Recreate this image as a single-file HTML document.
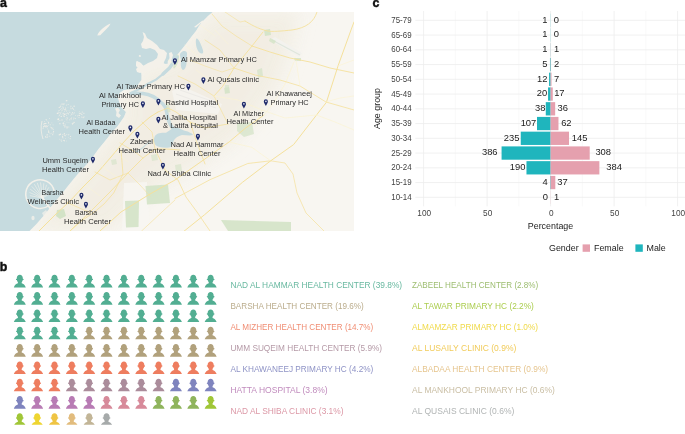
<!DOCTYPE html>
<html lang="en"><head><meta charset="utf-8"><title>Figure</title>
<style>html,body{margin:0;padding:0;background:#fff}svg{display:block}text{font-family:"Liberation Sans",sans-serif}.ml{font-size:7.6px;fill:#2b2b2b}.lg{font-size:9.1px;opacity:0.88}.ct{font-size:9.4px;fill:#222}.ax{font-size:9px;fill:#444}.pl{font-size:12.4px;font-weight:bold;fill:#111;stroke:#111;stroke-width:0.45px}</style></head><body>
<svg width="685" height="434" viewBox="0 0 685 434">
<rect width="685" height="434" fill="#fff"/>
<text class="pl" x="0.1" y="6.5">a</text>
<text class="pl" x="-0.3" y="270.5">b</text>
<text class="pl" x="372.6" y="6.9">c</text>
<defs><clipPath id="mc"><rect x="0" y="12" width="354" height="219"/></clipPath></defs>
<g clip-path="url(#mc)">
<rect x="0" y="12" width="354" height="219" fill="#c6dbdf"/>
<path d="M212.7,12 L208,16 L203,21 L199,26 L196,31 L192,36 L189,40 L186,44 L182,49 L178,54 L174,59 L170,63 L166,64 L162.4,63.2 L159.7,64 L155.6,66.5 L150.8,67.8 L144.4,66.5 L139.5,62.5 L136.3,61.3 L136,65.5 L138.5,68.5 L141,71 L141.5,75 L141.5,80 L138.5,84 L136,88 L130,89.5 L124,90 L119.5,93 L118,98 L119.5,103 L122,108 L126,112 L124,117 L120.5,122 L117,127 L112,132 L107.5,138 L103.5,143 L98.5,149 L93.5,156 L88,163 L80.5,171 L74.5,178 L68,186 L62.5,193 L56.5,200 L50,208 L43.5,216 L36.5,224 L29.5,231 L354,231 L354,12 Z" fill="#f8f6f1"/>
<clipPath id="lc"><path d="M212.7,12 L208,16 L203,21 L199,26 L196,31 L192,36 L189,40 L186,44 L182,49 L178,54 L174,59 L170,63 L166,64 L162.4,63.2 L159.7,64 L155.6,66.5 L150.8,67.8 L144.4,66.5 L139.5,62.5 L136.3,61.3 L136,65.5 L138.5,68.5 L141,71 L141.5,75 L141.5,80 L138.5,84 L136,88 L130,89.5 L124,90 L119.5,93 L118,98 L119.5,103 L122,108 L126,112 L124,117 L120.5,122 L117,127 L112,132 L107.5,138 L103.5,143 L98.5,149 L93.5,156 L88,163 L80.5,171 L74.5,178 L68,186 L62.5,193 L56.5,200 L50,208 L43.5,216 L36.5,224 L29.5,231 L354,231 L354,12 Z"/></clipPath>
<filter id="bl" x="-20%" y="-20%" width="140%" height="140%"><feGaussianBlur stdDeviation="9"/></filter>
<g clip-path="url(#lc)"><path d="M212.7,12 L208,16 L203,21 L199,26 L196,31 L192,36 L189,40 L186,44 L182,49 L178,54 L174,59 L170,63 L166,64 L162.4,63.2 L159.7,64 L155.6,66.5 L150.8,67.8 L144.4,66.5 L139.5,62.5 L136.3,61.3 L136,65.5 L138.5,68.5 L141,71 L141.5,75 L141.5,80 L138.5,84 L136,88 L130,89.5 L124,90 L119.5,93 L118,98 L119.5,103 L122,108 L126,112 L124,117 L120.5,122 L117,127 L112,132 L107.5,138 L103.5,143 L98.5,149 L93.5,156 L88,163 L80.5,171 L74.5,178 L68,186 L62.5,193 L56.5,200 L50,208 L43.5,216 L36.5,224 L29.5,231 L110,231 L135,205 L160,185 L200,165 L235,140 L262,110 L280,80 L290,50 L300,12 Z" fill="#f1ede2" opacity="0.9" filter="url(#bl)"/></g>
<path d="M194,27 L202.5,20.5 L204.5,22.5 L203.5,27 L201,30 L199.5,27.5 L202,24 L201,23 L196,27.5 Z" fill="#f4f1ea"/>
<path d="M142.6,32 L145,33.5 L147,38 L152,41 L157,45 L160,49 L164,50 L167,53 L166,58 L164,62 L163.5,66 L160,68 L156,67 L152,69 L146,71 L140,73 L137,72 L136,69 L139,66 L143,66 L148,63 L153,61 L157,58 L158,54 L155,50 L150,48 L146,49 L142,48 L141,44 L143,41 L144,37 Z" fill="#f4f1ea"/>
<path d="M137,61 L141,63 L143,66 L139,68 L136,66 Z" fill="#f4f1ea"/>
<path d="M169,53 L171.5,52 L173,55 L171,62 L168.5,65 L167.5,62 L169.5,58 Z" fill="#f4f1ea"/>
<path d="M139,55 L141,55.5 L140.5,57 L138.8,56.5 Z" fill="#f4f1ea"/>
<path d="M196.5,38.5 C198,38 200,42 201.5,46 C203,50 204,52.5 202.5,53.5 C200,54 197.5,51 196.5,47 C195.8,43.5 195.5,39.5 196.5,38.5 Z" fill="#c6dbdf"/>
<path d="M180.5,53 C183,50 186.5,50.5 187,53 C187.5,56 186,58 186.5,61 C187,65 185,70 183,70 C181,69 180.5,65 181,62 C181.5,58 179,56 180.5,53 Z" fill="#c6dbdf"/>
<path d="M176,55 C178,53.5 179.5,55 179,58 C178.5,62 177,66 174.5,68.5 C173,69 173,67 174,64.5 C175,61 174.5,57 176,55 Z" fill="#d9e6cd"/>
<path d="M120,75 L139,75 L141,80 L138,86 L133,92 L127,97 L120,100 Z" fill="#c6dbdf" opacity="0"/>
<path d="M177,57 L173,63 L169.5,68 L163,74" fill="none" stroke="#c6dbdf" stroke-width="3.4" stroke-linecap="round" stroke-linejoin="round"/>
<path d="M169.5,68 L163,74 L156,79.6 L148,83.8 L140,88.8 L132,92.6" fill="none" stroke="#c6dbdf" stroke-width="2.2" stroke-linecap="round" stroke-linejoin="round"/>
<path d="M131,93.5 C136,93.2 143,93.2 148,94.5 C152,95.5 156,98 158.5,100 C161.8,102.6 164,105 165.2,107.2 C166.5,110 167,113.5 167.5,117 C168.5,121 170,125 173,128.5" fill="none" stroke="#c6dbdf" stroke-width="3.4" stroke-linecap="round"/>
<path d="M154.5,137 C156,133 161,132.5 166,132.8 C169,131 172,128.5 175,127.5 C178,127.5 181,129 184,130.5 C188,131.5 192,133 193,135 C190,136 186,135 182,135 C178,136 175,138 173.5,141 C173,144 172,147 169,147.5 C164,148 158,147.5 155.5,145 C153.5,142.5 153.5,139.5 154.5,137 Z" fill="#c6dbdf"/>
<path d="M152,141 C148,143 144,146 141,149 C139,151 137,152 135,152" fill="none" stroke="#c6dbdf" stroke-width="1.2" opacity="0.8"/>
<path d="M172,91 L182,86 L222,104 L218,114 L176,110 Z" fill="#f5f4f2" opacity="0.75"/>
<path d="M176,94 L216,108 M180,90 L220,104" stroke="#eceae6" stroke-width="1" fill="none"/>
<path d="M270,40 L275,37 L302,53 L299,57 Z" fill="#f3f2ee"/>
<path d="M272,40 L300,55" stroke="#dfe6dc" stroke-width="1.2" fill="none"/>
<path d="M124,183 L147,182 L150,231 L122,231 Z" fill="#f7f6f2" opacity="0.8"/>
<path d="M57,210 L64,209 L66,216 L60,219 L56,216 Z" fill="#d3e3c6" opacity="1"/>
<path d="M145.5,186 L168,184.5 L170,203 L147,204.5 Z" fill="#d3e3c6" opacity="0.9"/>
<path d="M125,201 L139,200.5 L138.5,227 L126,227.5 Z" fill="#d3e3c6" opacity="0.9"/>
<path d="M221,220 L291,222 L291,231 L228,231 Z" fill="#d3e3c6" opacity="0.9"/>
<path d="M237,123 L252,122 L254,134 L244,137 L237,131 Z" fill="#d3e3c6" opacity="0.7"/>
<path d="M225,85 L229,85 L229.5,93 L225,93 Z" fill="#d3e3c6" opacity="0.6"/>
<path d="M264,30 L270,29 L271,35 L265,36 Z" fill="#d3e3c6" opacity="0.9"/>
<path d="M257,70 L262,68 L263,76 L258,78 Z" fill="#d3e3c6" opacity="0.7"/>
<path d="M224,88 L229,87 L230,93 L225,94 Z" fill="#d3e3c6" opacity="0.7"/>
<path d="M270,38 L276,41 L274,44 L269,41 Z" fill="#d3e3c6" opacity="0.8"/>
<path d="M294,58 L301,58 L301,61 L295,61 Z" fill="#d3e3c6" opacity="0.8"/>
<path d="M175,165 L181,164 L182,171 L176,172 Z" fill="#d3e3c6" opacity="0.6"/>
<path d="M151,155 L157,154 L158,160 L152,161 Z" fill="#d3e3c6" opacity="0.6"/>
<path d="M111,160 L116,159 L117,164 L112,165 Z" fill="#d3e3c6" opacity="0.6"/>
<path d="M165.5,102.5 L169,104 L170.5,112 L167.5,112.5 Z" fill="#d3e3c6" opacity="0.7"/>
<path d="M39,231 L55,215 L69,202 L83,187 L98,172 L111,157 L123,143 L133,132 L143,123 L150,117 L158,112" fill="none" stroke="#f5e19c" stroke-width="1.0" opacity="1" stroke-linecap="round" stroke-linejoin="round"/>
<path d="M70,231 L90,212 L110,192 L128,173 L143,158 L155,149 L166,149 L180,150" fill="none" stroke="#f5e19c" stroke-width="0.9" opacity="1" stroke-linecap="round" stroke-linejoin="round"/>
<path d="M100,231 L121,212 L150,194 L175,180 L202,161 L229,142 L245,128.5 L264,115" fill="none" stroke="#f5e19c" stroke-width="1.0" opacity="1" stroke-linecap="round" stroke-linejoin="round"/>
<path d="M264,115 L274,102 L285,84 L294,62" fill="none" stroke="#fbf3d2" stroke-width="0.7" opacity="1" stroke-linecap="round" stroke-linejoin="round"/>
<path d="M183,232 L204.6,214.7 L242.4,182.4 L270.7,160.8 L293.6,144.6 L316.5,115 L326.4,102.3 L338,66 L351,30 L354,22" fill="none" stroke="#f5e19c" stroke-width="1.0" opacity="1" stroke-linecap="round" stroke-linejoin="round"/>
<path d="M95,172 L110,180 L128,173" fill="none" stroke="#f5e19c" stroke-width="0.7" opacity="1" stroke-linecap="round" stroke-linejoin="round"/>
<path d="M120,143 L135,152 L143,158" fill="none" stroke="#f5e19c" stroke-width="0.7" opacity="1" stroke-linecap="round" stroke-linejoin="round"/>
<path d="M66,202 L84,210 L90,212" fill="none" stroke="#f5e19c" stroke-width="0.7" opacity="1" stroke-linecap="round" stroke-linejoin="round"/>
<path d="M142,122 L152,132 L155,149" fill="none" stroke="#f5e19c" stroke-width="0.7" opacity="1" stroke-linecap="round" stroke-linejoin="round"/>
<path d="M158,112 L168,108 L176,112 L190,122 L205,128 L228,124" fill="none" stroke="#f5e19c" stroke-width="0.8" opacity="1" stroke-linecap="round" stroke-linejoin="round"/>
<path d="M190,122 L196,140 L205,164" fill="none" stroke="#f5e19c" stroke-width="0.8" opacity="1" stroke-linecap="round" stroke-linejoin="round"/>
<path d="M155,149 L165,170 L178,180 L186,197 L197,212 L210,231" fill="none" stroke="#f5e19c" stroke-width="0.8" opacity="1" stroke-linecap="round" stroke-linejoin="round"/>
<path d="M128,173 L140,185 L150,196" fill="none" stroke="#f5e19c" stroke-width="0.6" opacity="1" stroke-linecap="round" stroke-linejoin="round"/>
<path d="M175,200 L156.6,217 L141.6,231" fill="none" stroke="#f5e19c" stroke-width="0.7" opacity="0.9" stroke-linecap="round" stroke-linejoin="round"/>
<path d="M121,150 L123,174 L113.7,193 L104,204 L95,211.5 L80,222 L70,231" fill="none" stroke="#f5e19c" stroke-width="0.8" opacity="1" stroke-linecap="round" stroke-linejoin="round"/>
<path d="M317,12 C314,22 306,28 292,30 C282,31 272,32 267.7,31 C258,29 250,24 245,21" fill="none" stroke="#f5e19c" stroke-width="0.9" opacity="1" stroke-linecap="round" stroke-linejoin="round"/>
<path d="M263,32 L252,46 L243,57 L234,68 L228,78 L222.5,86.5 L214,96" fill="none" stroke="#f5e19c" stroke-width="0.9" opacity="1" stroke-linecap="round" stroke-linejoin="round"/>
<path d="M252,46 L270,52 L290,58 L310,62 L330,68 L354,73" fill="none" stroke="#f5e19c" stroke-width="0.9" opacity="1" stroke-linecap="round" stroke-linejoin="round"/>
<path d="M234,68 L255,75 L280,80 L300,86 L326,102 L354,110" fill="none" stroke="#f5e19c" stroke-width="0.8" opacity="1" stroke-linecap="round" stroke-linejoin="round"/>
<path d="M205,40 L220,50 L234,68" fill="none" stroke="#f5e19c" stroke-width="0.7" opacity="1" stroke-linecap="round" stroke-linejoin="round"/>
<path d="M190,60 L205,66 L222,72 L234,68" fill="none" stroke="#f5e19c" stroke-width="0.6" opacity="1" stroke-linecap="round" stroke-linejoin="round"/>
<path d="M178,76 L195,84 L214,96 L228,124" fill="none" stroke="#f5e19c" stroke-width="0.7" opacity="1" stroke-linecap="round" stroke-linejoin="round"/>
<path d="M214,96 L238,100 L262,110 L285,118 L316.5,115" fill="none" stroke="#fbf3d2" stroke-width="0.7" opacity="1" stroke-linecap="round" stroke-linejoin="round"/>
<path d="M316.5,115 L335,122 L354,130" fill="none" stroke="#fbf3d2" stroke-width="0.7" opacity="1" stroke-linecap="round" stroke-linejoin="round"/>
<path d="M212,14 L222,26 L236,36 L252,46" fill="none" stroke="#f5e19c" stroke-width="0.7" opacity="1" stroke-linecap="round" stroke-linejoin="round"/>
<path d="M225,12 L240,22 L245,21" fill="none" stroke="#f5e19c" stroke-width="0.6" opacity="1" stroke-linecap="round" stroke-linejoin="round"/>
<path d="M175,198.5 L210,179.7 L247.8,163.5 L270.7,160.8" fill="none" stroke="#f5e19c" stroke-width="0.8" opacity="1" stroke-linecap="round" stroke-linejoin="round"/>
<path d="M229,142 L251.8,147.3 L270.7,160.8" fill="none" stroke="#fbf3d2" stroke-width="0.7" opacity="1" stroke-linecap="round" stroke-linejoin="round"/>
<path d="M270.7,160.8 L285,163 L293,174 L297,193 L306,213 L324,231" fill="none" stroke="#f5e19c" stroke-width="0.8" opacity="0.9" stroke-linecap="round" stroke-linejoin="round"/>
<path d="M255,126 L262,110" fill="none" stroke="#fbf3d2" stroke-width="0.7" opacity="1" stroke-linecap="round" stroke-linejoin="round"/>
<path d="M300,86 L296,60" fill="none" stroke="#fbf3d2" stroke-width="0.6" opacity="1" stroke-linecap="round" stroke-linejoin="round"/>
<path d="M338,66 L354,60" fill="none" stroke="#fbf3d2" stroke-width="0.6" opacity="1" stroke-linecap="round" stroke-linejoin="round"/>
<path d="M326,102 L340,98 L354,96" fill="none" stroke="#fbf3d2" stroke-width="0.6" opacity="1" stroke-linecap="round" stroke-linejoin="round"/>
<path d="M100,165 L118,178" fill="none" stroke="#fbf3d2" stroke-width="0.5" opacity="0.9" stroke-linecap="round" stroke-linejoin="round"/>
<path d="M85,185 L100,196" fill="none" stroke="#fbf3d2" stroke-width="0.5" opacity="0.9" stroke-linecap="round" stroke-linejoin="round"/>
<path d="M112,150 L128,162" fill="none" stroke="#fbf3d2" stroke-width="0.5" opacity="0.9" stroke-linecap="round" stroke-linejoin="round"/>
<path d="M70,205 L82,213" fill="none" stroke="#fbf3d2" stroke-width="0.5" opacity="0.9" stroke-linecap="round" stroke-linejoin="round"/>
<path d="M168,60 L182,70" fill="none" stroke="#fbf3d2" stroke-width="0.5" opacity="0.9" stroke-linecap="round" stroke-linejoin="round"/>
<path d="M185,45 L200,58" fill="none" stroke="#fbf3d2" stroke-width="0.5" opacity="0.9" stroke-linecap="round" stroke-linejoin="round"/>
<path d="M200,25 L215,36" fill="none" stroke="#fbf3d2" stroke-width="0.5" opacity="0.9" stroke-linecap="round" stroke-linejoin="round"/>
<path d="M215,30 L228,44" fill="none" stroke="#fbf3d2" stroke-width="0.5" opacity="0.9" stroke-linecap="round" stroke-linejoin="round"/>
<path d="M196,70 L210,80" fill="none" stroke="#fbf3d2" stroke-width="0.5" opacity="0.9" stroke-linecap="round" stroke-linejoin="round"/>
<path d="M115,108.5 L118,107.5 L120,110 L118.5,113 L121,115.5 L119,118 L116,116 L116.5,112 Z" fill="#f4f1ea" opacity="0.9"/>
<path d="M49,205.5 A14.4,14.4 0 1 1 54.2,191" fill="none" stroke="#f4f1ea" stroke-width="1.5" opacity="0.95"/>
<path d="M52,211 L41,195.5" stroke="#f4f1ea" stroke-width="1.7" fill="none"/>
<path d="M42.5,198.0 L29.9,195.7" stroke="#f4f1ea" stroke-width="0.7" opacity="0.85" fill="none"/>
<path d="M42.5,198.0 L29.5,192.5" stroke="#f4f1ea" stroke-width="0.7" opacity="0.85" fill="none"/>
<path d="M42.5,198.0 L30.2,189.2" stroke="#f4f1ea" stroke-width="0.7" opacity="0.85" fill="none"/>
<path d="M42.5,198.0 L31.8,186.4" stroke="#f4f1ea" stroke-width="0.7" opacity="0.85" fill="none"/>
<path d="M42.5,198.0 L34.3,184.2" stroke="#f4f1ea" stroke-width="0.7" opacity="0.85" fill="none"/>
<path d="M42.5,198.0 L37.3,182.9" stroke="#f4f1ea" stroke-width="0.7" opacity="0.85" fill="none"/>
<path d="M42.5,198.0 L40.5,182.5" stroke="#f4f1ea" stroke-width="0.7" opacity="0.85" fill="none"/>
<path d="M42.5,198.0 L43.8,183.2" stroke="#f4f1ea" stroke-width="0.7" opacity="0.85" fill="none"/>
<path d="M42.5,198.0 L46.6,184.8" stroke="#f4f1ea" stroke-width="0.7" opacity="0.85" fill="none"/>
<path d="M42.5,198.0 L48.8,187.3" stroke="#f4f1ea" stroke-width="0.7" opacity="0.85" fill="none"/>
<path d="M42.5,198.0 L50.1,190.3" stroke="#f4f1ea" stroke-width="0.7" opacity="0.85" fill="none"/>
<path d="M42.5,198.0 L50.5,193.5" stroke="#f4f1ea" stroke-width="0.7" opacity="0.85" fill="none"/>
<ellipse cx="33" cy="218" rx="1.6" ry="2.2" fill="#f4f1ea" opacity="0.8"/>
<path d="M42,213 L46,210 L48,213 L44,217 Z" fill="#f4f1ea" opacity="0.7"/>
<rect x="62.7" y="104.2" width="1.0" height="1.0" fill="#f1efe8" opacity="0.63"/>
<rect x="66.7" y="110.2" width="0.6" height="0.6" fill="#f1efe8" opacity="0.80"/>
<rect x="57.2" y="112.1" width="0.6" height="0.6" fill="#f1efe8" opacity="0.64"/>
<rect x="64.6" y="123.2" width="0.7" height="0.7" fill="#f1efe8" opacity="0.69"/>
<rect x="68.4" y="126.5" width="0.9" height="0.9" fill="#f1efe8" opacity="0.76"/>
<rect x="72.8" y="108.1" width="0.7" height="0.7" fill="#f1efe8" opacity="0.65"/>
<rect x="62.4" y="122.9" width="0.7" height="0.7" fill="#f1efe8" opacity="0.83"/>
<rect x="68.6" y="110.4" width="0.9" height="0.9" fill="#f1efe8" opacity="0.63"/>
<rect x="69.4" y="112.0" width="0.8" height="0.8" fill="#f1efe8" opacity="0.83"/>
<rect x="65.1" y="108.4" width="1.1" height="1.1" fill="#f1efe8" opacity="0.88"/>
<rect x="61.1" y="116.1" width="0.9" height="0.9" fill="#f1efe8" opacity="0.95"/>
<rect x="70.4" y="108.1" width="1.2" height="1.2" fill="#f1efe8" opacity="0.65"/>
<rect x="64.4" y="121.2" width="0.7" height="0.7" fill="#f1efe8" opacity="0.80"/>
<rect x="57.2" y="118.7" width="1.1" height="1.1" fill="#f1efe8" opacity="0.83"/>
<rect x="73.1" y="108.8" width="1.0" height="1.0" fill="#f1efe8" opacity="0.84"/>
<rect x="67.5" y="112.8" width="1.1" height="1.1" fill="#f1efe8" opacity="0.98"/>
<rect x="65.5" y="118.6" width="0.6" height="0.6" fill="#f1efe8" opacity="0.88"/>
<rect x="72.1" y="108.0" width="0.8" height="0.8" fill="#f1efe8" opacity="0.87"/>
<rect x="56.9" y="112.9" width="0.7" height="0.7" fill="#f1efe8" opacity="0.65"/>
<rect x="59.0" y="106.9" width="0.8" height="0.8" fill="#f1efe8" opacity="0.95"/>
<rect x="58.0" y="112.6" width="0.9" height="0.9" fill="#f1efe8" opacity="0.95"/>
<rect x="72.1" y="124.2" width="0.8" height="0.8" fill="#f1efe8" opacity="0.77"/>
<rect x="63.3" y="124.8" width="1.2" height="1.2" fill="#f1efe8" opacity="0.66"/>
<rect x="59.8" y="106.5" width="0.7" height="0.7" fill="#f1efe8" opacity="0.79"/>
<rect x="67.7" y="107.4" width="0.6" height="0.6" fill="#f1efe8" opacity="0.77"/>
<rect x="63.5" y="115.9" width="1.2" height="1.2" fill="#f1efe8" opacity="0.88"/>
<rect x="66.3" y="117.3" width="1.0" height="1.0" fill="#f1efe8" opacity="0.62"/>
<rect x="73.6" y="121.8" width="1.1" height="1.1" fill="#f1efe8" opacity="0.92"/>
<rect x="64.0" y="111.2" width="0.7" height="0.7" fill="#f1efe8" opacity="0.85"/>
<rect x="60.5" y="104.5" width="0.8" height="0.8" fill="#f1efe8" opacity="0.62"/>
<rect x="58.4" y="110.2" width="0.6" height="0.6" fill="#f1efe8" opacity="0.95"/>
<rect x="68.2" y="104.2" width="0.8" height="0.8" fill="#f1efe8" opacity="0.74"/>
<rect x="63.4" y="103.4" width="1.1" height="1.1" fill="#f1efe8" opacity="1.00"/>
<rect x="65.4" y="113.5" width="0.7" height="0.7" fill="#f1efe8" opacity="0.64"/>
<rect x="63.0" y="107.4" width="1.1" height="1.1" fill="#f1efe8" opacity="0.66"/>
<rect x="66.5" y="104.1" width="0.9" height="0.9" fill="#f1efe8" opacity="0.61"/>
<rect x="66.5" y="127.4" width="1.1" height="1.1" fill="#f1efe8" opacity="0.88"/>
<rect x="61.5" y="110.3" width="0.7" height="0.7" fill="#f1efe8" opacity="0.91"/>
<rect x="66.6" y="121.8" width="0.8" height="0.8" fill="#f1efe8" opacity="0.69"/>
<rect x="72.7" y="122.6" width="1.1" height="1.1" fill="#f1efe8" opacity="0.90"/>
<rect x="60.8" y="114.5" width="0.8" height="0.8" fill="#f1efe8" opacity="0.61"/>
<rect x="61.4" y="119.4" width="1.2" height="1.2" fill="#f1efe8" opacity="0.78"/>
<rect x="74.6" y="110.2" width="0.7" height="0.7" fill="#f1efe8" opacity="0.69"/>
<rect x="60.2" y="105.7" width="1.0" height="1.0" fill="#f1efe8" opacity="0.96"/>
<rect x="72.5" y="113.4" width="1.0" height="1.0" fill="#f1efe8" opacity="0.92"/>
<rect x="58.1" y="118.5" width="1.1" height="1.1" fill="#f1efe8" opacity="0.91"/>
<rect x="70.8" y="113.4" width="0.7" height="0.7" fill="#f1efe8" opacity="0.92"/>
<rect x="62.8" y="122.4" width="1.2" height="1.2" fill="#f1efe8" opacity="0.76"/>
<rect x="64.1" y="126.5" width="1.0" height="1.0" fill="#f1efe8" opacity="0.67"/>
<rect x="59.3" y="123.1" width="1.2" height="1.2" fill="#f1efe8" opacity="0.86"/>
<rect x="63.2" y="115.4" width="0.7" height="0.7" fill="#f1efe8" opacity="0.61"/>
<rect x="74.9" y="118.2" width="0.9" height="0.9" fill="#f1efe8" opacity="0.97"/>
<rect x="64.7" y="124.4" width="1.1" height="1.1" fill="#f1efe8" opacity="0.68"/>
<rect x="61.3" y="108.2" width="0.7" height="0.7" fill="#f1efe8" opacity="0.83"/>
<rect x="61.4" y="111.7" width="0.7" height="0.7" fill="#f1efe8" opacity="0.96"/>
<rect x="63.2" y="112.8" width="1.0" height="1.0" fill="#f1efe8" opacity="0.96"/>
<rect x="64.5" y="125.7" width="0.9" height="0.9" fill="#f1efe8" opacity="0.81"/>
<rect x="66.4" y="100.5" width="0.9" height="0.9" fill="#f1efe8" opacity="0.67"/>
<rect x="59.8" y="113.3" width="1.0" height="1.0" fill="#f1efe8" opacity="0.82"/>
<rect x="62.7" y="114.5" width="0.9" height="0.9" fill="#f1efe8" opacity="0.91"/>
<rect x="58.5" y="115.7" width="0.7" height="0.7" fill="#f1efe8" opacity="0.71"/>
<rect x="71.2" y="114.2" width="0.9" height="0.9" fill="#f1efe8" opacity="0.90"/>
<rect x="73.8" y="112.4" width="1.0" height="1.0" fill="#f1efe8" opacity="0.80"/>
<rect x="66.2" y="119.4" width="0.9" height="0.9" fill="#f1efe8" opacity="0.81"/>
<rect x="65.6" y="126.4" width="1.0" height="1.0" fill="#f1efe8" opacity="0.95"/>
<rect x="67.1" y="126.4" width="1.1" height="1.1" fill="#f1efe8" opacity="0.65"/>
<rect x="58.8" y="112.4" width="0.6" height="0.6" fill="#f1efe8" opacity="0.70"/>
<rect x="57.9" y="118.7" width="1.1" height="1.1" fill="#f1efe8" opacity="0.96"/>
<rect x="59.4" y="120.1" width="1.0" height="1.0" fill="#f1efe8" opacity="0.66"/>
<rect x="64.1" y="113.6" width="1.2" height="1.2" fill="#f1efe8" opacity="0.93"/>
<rect x="59.6" y="112.1" width="0.9" height="0.9" fill="#f1efe8" opacity="0.74"/>
<rect x="60.2" y="108.9" width="1.0" height="1.0" fill="#f1efe8" opacity="0.61"/>
<rect x="67.0" y="112.3" width="0.6" height="0.6" fill="#f1efe8" opacity="0.73"/>
<rect x="68.4" y="114.3" width="0.6" height="0.6" fill="#f1efe8" opacity="0.99"/>
<rect x="58.5" y="107.4" width="0.6" height="0.6" fill="#f1efe8" opacity="0.91"/>
<rect x="61.6" y="103.6" width="0.9" height="0.9" fill="#f1efe8" opacity="0.96"/>
<rect x="72.1" y="107.2" width="0.7" height="0.7" fill="#f1efe8" opacity="0.97"/>
<rect x="67.3" y="119.6" width="0.7" height="0.7" fill="#f1efe8" opacity="0.62"/>
<rect x="69.6" y="111.9" width="0.6" height="0.6" fill="#f1efe8" opacity="0.98"/>
<rect x="68.6" y="122.4" width="0.7" height="0.7" fill="#f1efe8" opacity="0.94"/>
<rect x="65.1" y="109.5" width="0.9" height="0.9" fill="#f1efe8" opacity="0.97"/>
<rect x="61.6" y="103.6" width="0.9" height="0.9" fill="#f1efe8" opacity="0.70"/>
<rect x="62.4" y="108.5" width="1.1" height="1.1" fill="#f1efe8" opacity="0.72"/>
<rect x="66.0" y="105.0" width="0.8" height="0.8" fill="#f1efe8" opacity="0.61"/>
<rect x="70.4" y="115.4" width="0.7" height="0.7" fill="#f1efe8" opacity="0.79"/>
<rect x="72.1" y="112.1" width="0.9" height="0.9" fill="#f1efe8" opacity="0.93"/>
<rect x="64.0" y="114.2" width="1.0" height="1.0" fill="#f1efe8" opacity="0.99"/>
<rect x="63.0" y="123.3" width="1.0" height="1.0" fill="#f1efe8" opacity="0.85"/>
<rect x="64.2" y="109.7" width="0.6" height="0.6" fill="#f1efe8" opacity="0.65"/>
<rect x="57.8" y="120.7" width="0.8" height="0.8" fill="#f1efe8" opacity="0.67"/>
<rect x="73.0" y="118.8" width="0.8" height="0.8" fill="#f1efe8" opacity="0.70"/>
<rect x="62.1" y="112.9" width="0.7" height="0.7" fill="#f1efe8" opacity="0.78"/>
<rect x="75.0" y="115.3" width="0.7" height="0.7" fill="#f1efe8" opacity="0.99"/>
<rect x="62.4" y="110.0" width="0.6" height="0.6" fill="#f1efe8" opacity="0.75"/>
<rect x="65.5" y="114.1" width="0.7" height="0.7" fill="#f1efe8" opacity="0.80"/>
<rect x="58.2" y="111.2" width="0.6" height="0.6" fill="#f1efe8" opacity="0.61"/>
<rect x="62.3" y="106.5" width="1.0" height="1.0" fill="#f1efe8" opacity="0.81"/>
<rect x="70.8" y="118.4" width="1.0" height="1.0" fill="#f1efe8" opacity="0.95"/>
<rect x="63.9" y="109.1" width="1.2" height="1.2" fill="#f1efe8" opacity="0.66"/>
<rect x="70.3" y="118.0" width="0.6" height="0.6" fill="#f1efe8" opacity="0.93"/>
<rect x="73.4" y="117.6" width="1.0" height="1.0" fill="#f1efe8" opacity="0.92"/>
<rect x="59.1" y="114.7" width="0.9" height="0.9" fill="#f1efe8" opacity="0.93"/>
<rect x="71.8" y="123.1" width="1.0" height="1.0" fill="#f1efe8" opacity="0.96"/>
<rect x="69.5" y="119.4" width="0.7" height="0.7" fill="#f1efe8" opacity="0.61"/>
<rect x="59.0" y="110.1" width="0.7" height="0.7" fill="#f1efe8" opacity="0.93"/>
<rect x="67.1" y="117.6" width="1.0" height="1.0" fill="#f1efe8" opacity="0.87"/>
<rect x="65.8" y="100.1" width="1.1" height="1.1" fill="#f1efe8" opacity="0.90"/>
<rect x="66.1" y="115.0" width="1.0" height="1.0" fill="#f1efe8" opacity="0.63"/>
<rect x="70.5" y="107.1" width="0.6" height="0.6" fill="#f1efe8" opacity="0.71"/>
<rect x="70.4" y="105.7" width="1.0" height="1.0" fill="#f1efe8" opacity="0.99"/>
<rect x="65.9" y="110.7" width="0.9" height="0.9" fill="#f1efe8" opacity="0.87"/>
<rect x="71.1" y="117.3" width="1.0" height="1.0" fill="#f1efe8" opacity="0.63"/>
<rect x="59.3" y="107.1" width="1.0" height="1.0" fill="#f1efe8" opacity="0.72"/>
<rect x="67.3" y="100.3" width="0.6" height="0.6" fill="#f1efe8" opacity="0.71"/>
<rect x="69.3" y="119.4" width="1.0" height="1.0" fill="#f1efe8" opacity="0.72"/>
<rect x="66.3" y="113.0" width="0.9" height="0.9" fill="#f1efe8" opacity="0.65"/>
<rect x="73.5" y="105.6" width="1.2" height="1.2" fill="#f1efe8" opacity="0.97"/>
<rect x="56.8" y="112.9" width="1.1" height="1.1" fill="#f1efe8" opacity="0.99"/>
<rect x="65.0" y="107.5" width="0.7" height="0.7" fill="#f1efe8" opacity="0.98"/>
<rect x="60.5" y="116.3" width="0.7" height="0.7" fill="#f1efe8" opacity="0.81"/>
<rect x="51.5" y="128.2" width="1.1" height="1.1" fill="#f1efe8" opacity="0.88"/>
<rect x="45.0" y="136.0" width="0.9" height="0.9" fill="#f1efe8" opacity="0.61"/>
<rect x="42.5" y="127.8" width="0.9" height="0.9" fill="#f1efe8" opacity="0.72"/>
<rect x="44.0" y="124.9" width="0.8" height="0.8" fill="#f1efe8" opacity="0.94"/>
<rect x="52.7" y="132.3" width="1.1" height="1.1" fill="#f1efe8" opacity="0.72"/>
<rect x="46.6" y="125.9" width="1.2" height="1.2" fill="#f1efe8" opacity="0.84"/>
<rect x="46.5" y="126.6" width="0.8" height="0.8" fill="#f1efe8" opacity="0.62"/>
<rect x="45.6" y="136.7" width="0.7" height="0.7" fill="#f1efe8" opacity="0.71"/>
<rect x="48.1" y="121.8" width="0.8" height="0.8" fill="#f1efe8" opacity="0.98"/>
<rect x="52.2" y="134.2" width="1.0" height="1.0" fill="#f1efe8" opacity="0.97"/>
<rect x="52.8" y="129.0" width="1.0" height="1.0" fill="#f1efe8" opacity="0.62"/>
<rect x="50.6" y="127.0" width="1.1" height="1.1" fill="#f1efe8" opacity="0.86"/>
<rect x="45.6" y="119.0" width="1.2" height="1.2" fill="#f1efe8" opacity="0.65"/>
<rect x="47.7" y="124.9" width="0.8" height="0.8" fill="#f1efe8" opacity="0.90"/>
<rect x="49.7" y="124.0" width="0.9" height="0.9" fill="#f1efe8" opacity="0.76"/>
<rect x="44.3" y="121.2" width="0.7" height="0.7" fill="#f1efe8" opacity="0.96"/>
<rect x="48.0" y="122.4" width="1.1" height="1.1" fill="#f1efe8" opacity="1.00"/>
<rect x="47.4" y="120.8" width="0.7" height="0.7" fill="#f1efe8" opacity="0.64"/>
<rect x="46.3" y="119.8" width="0.7" height="0.7" fill="#f1efe8" opacity="0.70"/>
<rect x="48.8" y="135.7" width="1.0" height="1.0" fill="#f1efe8" opacity="0.77"/>
<rect x="47.1" y="128.5" width="0.8" height="0.8" fill="#f1efe8" opacity="0.74"/>
<rect x="43.2" y="123.6" width="1.2" height="1.2" fill="#f1efe8" opacity="0.65"/>
<rect x="48.0" y="130.6" width="1.1" height="1.1" fill="#f1efe8" opacity="0.69"/>
<rect x="45.5" y="123.0" width="0.8" height="0.8" fill="#f1efe8" opacity="0.78"/>
<rect x="52.4" y="127.5" width="1.0" height="1.0" fill="#f1efe8" opacity="0.60"/>
<rect x="46.8" y="136.5" width="1.1" height="1.1" fill="#f1efe8" opacity="0.94"/>
<rect x="48.2" y="131.6" width="1.2" height="1.2" fill="#f1efe8" opacity="0.89"/>
<rect x="49.6" y="133.3" width="0.9" height="0.9" fill="#f1efe8" opacity="0.82"/>
<rect x="45.1" y="136.4" width="1.0" height="1.0" fill="#f1efe8" opacity="0.72"/>
<rect x="43.9" y="123.0" width="1.0" height="1.0" fill="#f1efe8" opacity="0.88"/>
<rect x="48.3" y="129.7" width="0.8" height="0.8" fill="#f1efe8" opacity="0.69"/>
<rect x="49.1" y="118.2" width="0.8" height="0.8" fill="#f1efe8" opacity="0.78"/>
<rect x="53.0" y="130.9" width="1.1" height="1.1" fill="#f1efe8" opacity="0.79"/>
<rect x="45.1" y="122.9" width="1.2" height="1.2" fill="#f1efe8" opacity="0.88"/>
<rect x="48.0" y="131.5" width="0.9" height="0.9" fill="#f1efe8" opacity="0.70"/>
<rect x="49.8" y="136.5" width="0.7" height="0.7" fill="#f1efe8" opacity="0.61"/>
<rect x="46.2" y="126.4" width="1.0" height="1.0" fill="#f1efe8" opacity="0.68"/>
<rect x="51.3" y="132.8" width="0.9" height="0.9" fill="#f1efe8" opacity="0.68"/>
<rect x="51.5" y="122.6" width="0.7" height="0.7" fill="#f1efe8" opacity="0.90"/>
<rect x="45.7" y="137.0" width="0.9" height="0.9" fill="#f1efe8" opacity="0.67"/>
<rect x="45.0" y="126.3" width="1.0" height="1.0" fill="#f1efe8" opacity="0.98"/>
<rect x="44.1" y="125.9" width="0.7" height="0.7" fill="#f1efe8" opacity="0.99"/>
<rect x="43.2" y="125.9" width="1.1" height="1.1" fill="#f1efe8" opacity="0.95"/>
<rect x="52.7" y="124.6" width="0.7" height="0.7" fill="#f1efe8" opacity="0.97"/>
<rect x="49.8" y="125.6" width="0.8" height="0.8" fill="#f1efe8" opacity="0.73"/>
<rect x="45.6" y="125.0" width="1.2" height="1.2" fill="#f1efe8" opacity="0.65"/>
<rect x="46.4" y="134.4" width="1.1" height="1.1" fill="#f1efe8" opacity="0.77"/>
<rect x="43.0" y="127.5" width="0.8" height="0.8" fill="#f1efe8" opacity="0.97"/>
<rect x="44.6" y="125.3" width="1.1" height="1.1" fill="#f1efe8" opacity="0.61"/>
<rect x="47.0" y="134.2" width="1.1" height="1.1" fill="#f1efe8" opacity="0.62"/>
<rect x="83.4" y="112.8" width="1.0" height="1.0" fill="#f1efe8" opacity="0.96"/>
<rect x="79.4" y="113.0" width="1.2" height="1.2" fill="#f1efe8" opacity="0.85"/>
<rect x="78.8" y="116.9" width="0.8" height="0.8" fill="#f1efe8" opacity="0.71"/>
<rect x="83.4" y="116.2" width="1.2" height="1.2" fill="#f1efe8" opacity="0.61"/>
<rect x="78.6" y="114.8" width="1.2" height="1.2" fill="#f1efe8" opacity="0.98"/>
<rect x="79.7" y="112.8" width="0.9" height="0.9" fill="#f1efe8" opacity="0.80"/>
<rect x="82.6" y="117.1" width="1.1" height="1.1" fill="#f1efe8" opacity="0.91"/>
<rect x="81.3" y="113.5" width="0.8" height="0.8" fill="#f1efe8" opacity="0.74"/>
<rect x="78.4" y="117.3" width="0.7" height="0.7" fill="#f1efe8" opacity="0.63"/>
<rect x="77.2" y="115.5" width="0.8" height="0.8" fill="#f1efe8" opacity="0.99"/>
<rect x="78.9" y="111.3" width="0.7" height="0.7" fill="#f1efe8" opacity="0.80"/>
<rect x="82.0" y="114.5" width="0.7" height="0.7" fill="#f1efe8" opacity="0.77"/>
<rect x="81.3" y="116.6" width="1.0" height="1.0" fill="#f1efe8" opacity="0.94"/>
<rect x="81.7" y="111.6" width="1.1" height="1.1" fill="#f1efe8" opacity="0.72"/>
<rect x="81.0" y="113.9" width="1.0" height="1.0" fill="#f1efe8" opacity="0.68"/>
<rect x="78.7" y="112.7" width="0.7" height="0.7" fill="#f1efe8" opacity="0.95"/>
<rect x="65.1" y="135.4" width="0.8" height="0.8" fill="#f1efe8" opacity="1.00"/>
<rect x="64.1" y="134.6" width="1.1" height="1.1" fill="#f1efe8" opacity="0.86"/>
<rect x="63.6" y="139.9" width="1.1" height="1.1" fill="#f1efe8" opacity="0.97"/>
<rect x="58.7" y="134.2" width="1.2" height="1.2" fill="#f1efe8" opacity="0.83"/>
<rect x="70.0" y="135.9" width="1.1" height="1.1" fill="#f1efe8" opacity="0.78"/>
<rect x="60.6" y="139.5" width="1.2" height="1.2" fill="#f1efe8" opacity="0.64"/>
<rect x="65.3" y="138.1" width="0.7" height="0.7" fill="#f1efe8" opacity="0.75"/>
<rect x="59.0" y="134.3" width="0.8" height="0.8" fill="#f1efe8" opacity="0.84"/>
<rect x="66.1" y="134.3" width="0.6" height="0.6" fill="#f1efe8" opacity="0.73"/>
<rect x="66.5" y="134.2" width="0.8" height="0.8" fill="#f1efe8" opacity="0.68"/>
<rect x="68.1" y="137.4" width="0.6" height="0.6" fill="#f1efe8" opacity="0.64"/>
<rect x="62.5" y="137.5" width="1.0" height="1.0" fill="#f1efe8" opacity="0.64"/>
<rect x="59.3" y="138.8" width="0.8" height="0.8" fill="#f1efe8" opacity="0.71"/>
<rect x="61.3" y="141.1" width="0.8" height="0.8" fill="#f1efe8" opacity="0.83"/>
<rect x="62.0" y="136.2" width="1.1" height="1.1" fill="#f1efe8" opacity="1.00"/>
<rect x="62.1" y="134.3" width="1.0" height="1.0" fill="#f1efe8" opacity="0.68"/>
<rect x="62.9" y="139.9" width="0.8" height="0.8" fill="#f1efe8" opacity="0.95"/>
<rect x="63.5" y="134.0" width="0.6" height="0.6" fill="#f1efe8" opacity="0.82"/>
<rect x="66.0" y="140.7" width="0.7" height="0.7" fill="#f1efe8" opacity="0.85"/>
<rect x="62.2" y="137.0" width="0.7" height="0.7" fill="#f1efe8" opacity="0.71"/>
<rect x="64.3" y="140.8" width="0.7" height="0.7" fill="#f1efe8" opacity="0.80"/>
<rect x="59.8" y="133.6" width="1.2" height="1.2" fill="#f1efe8" opacity="0.99"/>
<rect x="63.8" y="133.0" width="1.2" height="1.2" fill="#f1efe8" opacity="0.76"/>
<rect x="69.7" y="138.1" width="1.1" height="1.1" fill="#f1efe8" opacity="0.66"/>
<rect x="68.0" y="134.5" width="0.8" height="0.8" fill="#f1efe8" opacity="0.94"/>
<rect x="68.6" y="134.1" width="0.7" height="0.7" fill="#f1efe8" opacity="0.76"/>
<path d="M42,121 C40.5,127 41,133 43,139" fill="none" stroke="#f1efe8" stroke-width="0.9" opacity="0.9"/>
<path d="M97.3,35.5 C99,31 103,27 110.5,23.5 C109,27.5 104,31 100.3,35.2 Z" fill="#f4f1ea"/>
</g>
<path d="M174.9,65.0 C174.0,63.0 172.8,61.9 172.8,60.4 A2.05,2.05 0 1 1 177.0,60.4 C177.0,61.9 175.8,63.0 174.9,65.0 Z" fill="#1f2a6b"/><circle cx="174.9" cy="60.4" r="0.8" fill="#e8ecf6"/>
<path d="M203.4,84.0 C202.5,82.0 201.3,80.9 201.3,79.4 A2.05,2.05 0 1 1 205.5,79.4 C205.5,80.9 204.3,82.0 203.4,84.0 Z" fill="#1f2a6b"/><circle cx="203.4" cy="79.4" r="0.8" fill="#e8ecf6"/>
<path d="M188.4,90.5 C187.5,88.5 186.3,87.4 186.3,85.9 A2.05,2.05 0 1 1 190.5,85.9 C190.5,87.4 189.3,88.5 188.4,90.5 Z" fill="#1f2a6b"/><circle cx="188.4" cy="85.9" r="0.8" fill="#e8ecf6"/>
<path d="M142.9,108.0 C142.0,106.0 140.8,104.9 140.8,103.4 A2.05,2.05 0 1 1 145.0,103.4 C145.0,104.9 143.8,106.0 142.9,108.0 Z" fill="#1f2a6b"/><circle cx="142.9" cy="103.4" r="0.8" fill="#e8ecf6"/>
<path d="M158.4,105.5 C157.5,103.5 156.3,102.4 156.3,100.9 A2.05,2.05 0 1 1 160.5,100.9 C160.5,102.4 159.3,103.5 158.4,105.5 Z" fill="#1f2a6b"/><circle cx="158.4" cy="100.9" r="0.8" fill="#e8ecf6"/>
<path d="M265.9,106.0 C265.0,104.0 263.8,102.9 263.8,101.4 A2.05,2.05 0 1 1 267.9,101.4 C267.9,102.9 266.8,104.0 265.9,106.0 Z" fill="#1f2a6b"/><circle cx="265.9" cy="101.4" r="0.8" fill="#e8ecf6"/>
<path d="M243.9,108.5 C243.0,106.5 241.8,105.4 241.8,103.9 A2.05,2.05 0 1 1 246.0,103.9 C246.0,105.4 244.8,106.5 243.9,108.5 Z" fill="#1f2a6b"/><circle cx="243.9" cy="103.9" r="0.8" fill="#e8ecf6"/>
<path d="M158.4,123.5 C157.5,121.5 156.3,120.4 156.3,118.9 A2.05,2.05 0 1 1 160.5,118.9 C160.5,120.4 159.3,121.5 158.4,123.5 Z" fill="#1f2a6b"/><circle cx="158.4" cy="118.9" r="0.8" fill="#e8ecf6"/>
<path d="M130.4,132.0 C129.5,130.0 128.3,128.9 128.3,127.4 A2.05,2.05 0 1 1 132.5,127.4 C132.5,128.9 131.3,130.0 130.4,132.0 Z" fill="#1f2a6b"/><circle cx="130.4" cy="127.4" r="0.8" fill="#e8ecf6"/>
<path d="M137.4,138.5 C136.5,136.5 135.3,135.4 135.3,133.9 A2.05,2.05 0 1 1 139.5,133.9 C139.5,135.4 138.3,136.5 137.4,138.5 Z" fill="#1f2a6b"/><circle cx="137.4" cy="133.9" r="0.8" fill="#e8ecf6"/>
<path d="M197.9,140.5 C197.0,138.5 195.8,137.4 195.8,135.9 A2.05,2.05 0 1 1 200.0,135.9 C200.0,137.4 198.8,138.5 197.9,140.5 Z" fill="#1f2a6b"/><circle cx="197.9" cy="135.9" r="0.8" fill="#e8ecf6"/>
<path d="M92.9,163.5 C92.0,161.5 90.9,160.4 90.9,158.9 A2.05,2.05 0 1 1 95.0,158.9 C95.0,160.4 93.8,161.5 92.9,163.5 Z" fill="#1f2a6b"/><circle cx="92.9" cy="158.9" r="0.8" fill="#e8ecf6"/>
<path d="M162.9,169.5 C162.0,167.5 160.8,166.4 160.8,164.9 A2.05,2.05 0 1 1 165.0,164.9 C165.0,166.4 163.8,167.5 162.9,169.5 Z" fill="#1f2a6b"/><circle cx="162.9" cy="164.9" r="0.8" fill="#e8ecf6"/>
<path d="M81.4,199.5 C80.5,197.5 79.4,196.4 79.4,194.9 A2.05,2.05 0 1 1 83.5,194.9 C83.5,196.4 82.3,197.5 81.4,199.5 Z" fill="#1f2a6b"/><circle cx="81.4" cy="194.9" r="0.8" fill="#e8ecf6"/>
<path d="M85.9,208.5 C85.0,206.5 83.9,205.4 83.9,203.9 A2.05,2.05 0 1 1 88.0,203.9 C88.0,205.4 86.8,206.5 85.9,208.5 Z" fill="#1f2a6b"/><circle cx="85.9" cy="203.9" r="0.8" fill="#e8ecf6"/>
<text class="ml" x="219.0" y="62.2" text-anchor="middle" textLength="76.0" lengthAdjust="spacingAndGlyphs">Al Mamzar Primary HC</text>
<text class="ml" x="233.2" y="82.2" text-anchor="middle" textLength="51.5" lengthAdjust="spacingAndGlyphs">Al Qusais clinic</text>
<text class="ml" x="150.8" y="88.7" text-anchor="middle" textLength="68.5" lengthAdjust="spacingAndGlyphs">Al Tawar Primary HC</text>
<text class="ml" x="120.0" y="98.2" text-anchor="middle" textLength="42.0" lengthAdjust="spacingAndGlyphs">Al Mankhool</text>
<text class="ml" x="120.2" y="107.2" text-anchor="middle" textLength="37.5" lengthAdjust="spacingAndGlyphs">Primary HC</text>
<text class="ml" x="191.8" y="104.7" text-anchor="middle" textLength="52.5" lengthAdjust="spacingAndGlyphs">Rashid Hospital</text>
<text class="ml" x="289.2" y="96.2" text-anchor="middle" textLength="45.5" lengthAdjust="spacingAndGlyphs">Al Khawaneej</text>
<text class="ml" x="289.5" y="105.2" text-anchor="middle" textLength="38.0" lengthAdjust="spacingAndGlyphs">Primary HC</text>
<text class="ml" x="248.8" y="115.7" text-anchor="middle" textLength="30.5" lengthAdjust="spacingAndGlyphs">Al Mizher</text>
<text class="ml" x="250.0" y="124.2" text-anchor="middle" textLength="47.0" lengthAdjust="spacingAndGlyphs">Health Center</text>
<text class="ml" x="189.2" y="120.2" text-anchor="middle" textLength="55.5" lengthAdjust="spacingAndGlyphs">Al Jalila Hospital</text>
<text class="ml" x="190.5" y="128.3" text-anchor="middle" textLength="55.0" lengthAdjust="spacingAndGlyphs">&amp; Latifa Hospital</text>
<text class="ml" x="101.0" y="124.7" text-anchor="middle" textLength="29.0" lengthAdjust="spacingAndGlyphs">Al Badaa</text>
<text class="ml" x="101.8" y="133.7" text-anchor="middle" textLength="46.5" lengthAdjust="spacingAndGlyphs">Health Center</text>
<text class="ml" x="141.5" y="144.2" text-anchor="middle" textLength="23.0" lengthAdjust="spacingAndGlyphs">Zabeel</text>
<text class="ml" x="142.0" y="152.7" text-anchor="middle" textLength="47.0" lengthAdjust="spacingAndGlyphs">Health Center</text>
<text class="ml" x="197.0" y="147.2" text-anchor="middle" textLength="53.0" lengthAdjust="spacingAndGlyphs">Nad Al Hammar</text>
<text class="ml" x="197.0" y="155.7" text-anchor="middle" textLength="47.0" lengthAdjust="spacingAndGlyphs">Health Center</text>
<text class="ml" x="65.2" y="162.7" text-anchor="middle" textLength="45.5" lengthAdjust="spacingAndGlyphs">Umm Suqeim</text>
<text class="ml" x="65.5" y="171.7" text-anchor="middle" textLength="47.0" lengthAdjust="spacingAndGlyphs">Health Center</text>
<text class="ml" x="179.2" y="175.7" text-anchor="middle" textLength="63.5" lengthAdjust="spacingAndGlyphs">Nad Al Shiba Clinic</text>
<text class="ml" x="52.5" y="194.7" text-anchor="middle" textLength="22.0" lengthAdjust="spacingAndGlyphs">Barsha</text>
<text class="ml" x="53.2" y="203.7" text-anchor="middle" textLength="51.5" lengthAdjust="spacingAndGlyphs">Wellness Clinic</text>
<text class="ml" x="86.0" y="215.4" text-anchor="middle" textLength="22.0" lengthAdjust="spacingAndGlyphs">Barsha</text>
<text class="ml" x="87.5" y="223.9" text-anchor="middle" textLength="47.0" lengthAdjust="spacingAndGlyphs">Health Center</text>
<line x1="455.35" x2="455.35" y1="11" y2="206.3" stroke="#f3f3f3" stroke-width="0.5"/>
<line x1="518.85" x2="518.85" y1="11" y2="206.3" stroke="#f3f3f3" stroke-width="0.5"/>
<line x1="582.35" x2="582.35" y1="11" y2="206.3" stroke="#f3f3f3" stroke-width="0.5"/>
<line x1="645.85" x2="645.85" y1="11" y2="206.3" stroke="#f3f3f3" stroke-width="0.5"/>
<line x1="423.60" x2="423.60" y1="11" y2="206.3" stroke="#ececec" stroke-width="0.8"/>
<line x1="487.10" x2="487.10" y1="11" y2="206.3" stroke="#ececec" stroke-width="0.8"/>
<line x1="550.60" x2="550.60" y1="11" y2="206.3" stroke="#ececec" stroke-width="0.8"/>
<line x1="614.10" x2="614.10" y1="11" y2="206.3" stroke="#ececec" stroke-width="0.8"/>
<line x1="677.60" x2="677.60" y1="11" y2="206.3" stroke="#ececec" stroke-width="0.8"/>
<line x1="415.4" x2="685" y1="20.30" y2="20.30" stroke="#ececec" stroke-width="0.8"/>
<line x1="415.4" x2="685" y1="35.05" y2="35.05" stroke="#ececec" stroke-width="0.8"/>
<line x1="415.4" x2="685" y1="49.80" y2="49.80" stroke="#ececec" stroke-width="0.8"/>
<line x1="415.4" x2="685" y1="64.55" y2="64.55" stroke="#ececec" stroke-width="0.8"/>
<line x1="415.4" x2="685" y1="79.30" y2="79.30" stroke="#ececec" stroke-width="0.8"/>
<line x1="415.4" x2="685" y1="94.05" y2="94.05" stroke="#ececec" stroke-width="0.8"/>
<line x1="415.4" x2="685" y1="108.80" y2="108.80" stroke="#ececec" stroke-width="0.8"/>
<line x1="415.4" x2="685" y1="123.55" y2="123.55" stroke="#ececec" stroke-width="0.8"/>
<line x1="415.4" x2="685" y1="138.30" y2="138.30" stroke="#ececec" stroke-width="0.8"/>
<line x1="415.4" x2="685" y1="153.05" y2="153.05" stroke="#ececec" stroke-width="0.8"/>
<line x1="415.4" x2="685" y1="167.80" y2="167.80" stroke="#ececec" stroke-width="0.8"/>
<line x1="415.4" x2="685" y1="182.55" y2="182.55" stroke="#ececec" stroke-width="0.8"/>
<line x1="415.4" x2="685" y1="197.30" y2="197.30" stroke="#ececec" stroke-width="0.8"/>
<rect x="550.47" y="13.65" width="0.13" height="13.3" fill="#1fb5bd"/>
<text class="ct" x="547.37" y="22.70" text-anchor="end">1</text>
<text class="ct" x="553.80" y="22.70">0</text>
<text class="ax" x="411.6" y="22.80" text-anchor="end" textLength="20.3" lengthAdjust="spacingAndGlyphs">75-79</text>
<rect x="550.47" y="28.40" width="0.13" height="13.3" fill="#1fb5bd"/>
<text class="ct" x="547.37" y="37.45" text-anchor="end">1</text>
<text class="ct" x="553.80" y="37.45">0</text>
<text class="ax" x="411.6" y="37.55" text-anchor="end" textLength="20.3" lengthAdjust="spacingAndGlyphs">65-69</text>
<rect x="550.47" y="43.15" width="0.13" height="13.3" fill="#1fb5bd"/>
<rect x="550.60" y="43.15" width="0.13" height="13.3" fill="#e5a0ae"/>
<text class="ct" x="547.37" y="52.20" text-anchor="end">1</text>
<text class="ct" x="553.93" y="52.20">1</text>
<text class="ax" x="411.6" y="52.30" text-anchor="end" textLength="20.3" lengthAdjust="spacingAndGlyphs">60-64</text>
<rect x="549.97" y="57.90" width="0.64" height="13.3" fill="#1fb5bd"/>
<rect x="550.60" y="57.90" width="0.25" height="13.3" fill="#e5a0ae"/>
<text class="ct" x="547.37" y="66.95" text-anchor="end">5</text>
<text class="ct" x="554.05" y="66.95">2</text>
<text class="ax" x="411.6" y="67.05" text-anchor="end" textLength="20.3" lengthAdjust="spacingAndGlyphs">55-59</text>
<rect x="549.08" y="72.65" width="1.52" height="13.3" fill="#1fb5bd"/>
<rect x="550.60" y="72.65" width="0.89" height="13.3" fill="#e5a0ae"/>
<text class="ct" x="547.38" y="81.70" text-anchor="end">12</text>
<text class="ct" x="553.99" y="81.70">7</text>
<text class="ax" x="411.6" y="81.80" text-anchor="end" textLength="20.3" lengthAdjust="spacingAndGlyphs">50-54</text>
<rect x="548.06" y="87.40" width="2.54" height="13.3" fill="#1fb5bd"/>
<rect x="550.60" y="87.40" width="2.16" height="13.3" fill="#e5a0ae"/>
<text class="ct" x="547.26" y="96.45" text-anchor="end">20</text>
<text class="ct" x="554.16" y="96.45">17</text>
<text class="ax" x="411.6" y="96.55" text-anchor="end" textLength="20.3" lengthAdjust="spacingAndGlyphs">45-49</text>
<rect x="545.77" y="102.15" width="4.83" height="13.3" fill="#1fb5bd"/>
<rect x="550.60" y="102.15" width="4.57" height="13.3" fill="#e5a0ae"/>
<text class="ct" x="545.47" y="111.20" text-anchor="end">38</text>
<text class="ct" x="557.47" y="111.20">36</text>
<text class="ax" x="411.6" y="111.30" text-anchor="end" textLength="20.3" lengthAdjust="spacingAndGlyphs">40-44</text>
<rect x="537.01" y="116.90" width="13.59" height="13.3" fill="#1fb5bd"/>
<rect x="550.60" y="116.90" width="7.87" height="13.3" fill="#e5a0ae"/>
<text class="ct" x="536.31" y="125.95" text-anchor="end">107</text>
<text class="ct" x="561.17" y="125.95">62</text>
<text class="ax" x="411.6" y="126.05" text-anchor="end" textLength="20.3" lengthAdjust="spacingAndGlyphs">35-39</text>
<rect x="520.75" y="131.65" width="29.84" height="13.3" fill="#1fb5bd"/>
<rect x="550.60" y="131.65" width="18.41" height="13.3" fill="#e5a0ae"/>
<text class="ct" x="519.36" y="140.70" text-anchor="end">235</text>
<text class="ct" x="571.72" y="140.70">145</text>
<text class="ax" x="411.6" y="140.80" text-anchor="end" textLength="20.3" lengthAdjust="spacingAndGlyphs">30-34</text>
<rect x="501.58" y="146.40" width="49.02" height="13.3" fill="#1fb5bd"/>
<rect x="550.60" y="146.40" width="39.12" height="13.3" fill="#e5a0ae"/>
<text class="ct" x="497.58" y="155.45" text-anchor="end">386</text>
<text class="ct" x="595.42" y="155.45">308</text>
<text class="ax" x="411.6" y="155.55" text-anchor="end" textLength="20.3" lengthAdjust="spacingAndGlyphs">25-29</text>
<rect x="526.47" y="161.15" width="24.13" height="13.3" fill="#1fb5bd"/>
<rect x="550.60" y="161.15" width="48.77" height="13.3" fill="#e5a0ae"/>
<text class="ct" x="525.47" y="170.20" text-anchor="end">190</text>
<text class="ct" x="606.37" y="170.20">384</text>
<text class="ax" x="411.6" y="170.30" text-anchor="end" textLength="20.3" lengthAdjust="spacingAndGlyphs">20-24</text>
<rect x="550.09" y="175.90" width="0.51" height="13.3" fill="#1fb5bd"/>
<rect x="550.60" y="175.90" width="4.70" height="13.3" fill="#e5a0ae"/>
<text class="ct" x="547.79" y="184.95" text-anchor="end">4</text>
<text class="ct" x="557.20" y="184.95">37</text>
<text class="ax" x="411.6" y="185.05" text-anchor="end" textLength="20.3" lengthAdjust="spacingAndGlyphs">15-19</text>
<rect x="550.60" y="190.65" width="0.13" height="13.3" fill="#e5a0ae"/>
<text class="ct" x="548.00" y="199.70" text-anchor="end">0</text>
<text class="ct" x="553.93" y="199.70">1</text>
<text class="ax" x="411.6" y="199.80" text-anchor="end" textLength="20.3" lengthAdjust="spacingAndGlyphs">10-14</text>
<text class="ax" x="424.20" y="215.7" text-anchor="middle" textLength="13.8" lengthAdjust="spacingAndGlyphs">100</text>
<text class="ax" x="487.70" y="215.7" text-anchor="middle" textLength="9.2" lengthAdjust="spacingAndGlyphs">50</text>
<text class="ax" x="551.20" y="215.7" text-anchor="middle" textLength="4.6" lengthAdjust="spacingAndGlyphs">0</text>
<text class="ax" x="614.70" y="215.7" text-anchor="middle" textLength="9.2" lengthAdjust="spacingAndGlyphs">50</text>
<text class="ax" x="678.20" y="215.7" text-anchor="middle" textLength="13.8" lengthAdjust="spacingAndGlyphs">100</text>
<text class="ct" x="550.5" y="229.2" text-anchor="middle" style="font-size:8.9px">Percentage</text>
<text class="ct" transform="translate(380,108.5) rotate(-90)" text-anchor="middle" style="font-size:8.9px">Age group</text>
<text class="ct" x="549" y="250.6" style="font-size:8.9px">Gender</text>
<rect x="582.6" y="244.4" width="7.4" height="7.4" fill="#e5a0ae"/>
<text class="ct" x="594" y="250.6" style="font-size:8.9px">Female</text>
<rect x="635.4" y="244.4" width="7.4" height="7.4" fill="#1fb5bd"/>
<text class="ct" x="646.5" y="250.6" style="font-size:8.9px">Male</text>
<defs><path id="u" d="M6,0 C7.8,0 9,1.3 9,3.2 L9,3.9 C9.6,3.9 9.9,4.2 9.9,4.6 C9.9,5 9.5,5.3 9,5.3 C8.8,6.3 8.3,7 7.9,7.4 L7.9,8.2 L7.9,8.5 C9.6,9 11.1,9.9 12,12.6 L0,12.6 C0.9,9.9 2.4,9 4.1,8.5 L4.1,7.4 C3.7,7 3.2,6.3 3,5.3 C2.5,5.3 2.1,5 2.1,4.6 C2.1,4.2 2.4,3.9 3,3.9 L3,3.2 C3,1.3 4.2,0 6,0 Z"/></defs>
<defs><clipPath id="ic"><rect x="0" y="270" width="230" height="154.8"/></clipPath></defs><g clip-path="url(#ic)">
<use href="#u" x="13.80" y="274.80" fill="#52ae92"/>
<use href="#u" x="31.15" y="274.80" fill="#52ae92"/>
<use href="#u" x="48.50" y="274.80" fill="#52ae92"/>
<use href="#u" x="65.85" y="274.80" fill="#52ae92"/>
<use href="#u" x="83.20" y="274.80" fill="#52ae92"/>
<use href="#u" x="100.55" y="274.80" fill="#52ae92"/>
<use href="#u" x="117.90" y="274.80" fill="#52ae92"/>
<use href="#u" x="135.25" y="274.80" fill="#52ae92"/>
<use href="#u" x="152.60" y="274.80" fill="#52ae92"/>
<use href="#u" x="169.95" y="274.80" fill="#52ae92"/>
<use href="#u" x="187.30" y="274.80" fill="#52ae92"/>
<use href="#u" x="204.65" y="274.80" fill="#52ae92"/>
<use href="#u" x="13.80" y="292.12" fill="#52ae92"/>
<use href="#u" x="31.15" y="292.12" fill="#52ae92"/>
<use href="#u" x="48.50" y="292.12" fill="#52ae92"/>
<use href="#u" x="65.85" y="292.12" fill="#52ae92"/>
<use href="#u" x="83.20" y="292.12" fill="#52ae92"/>
<use href="#u" x="100.55" y="292.12" fill="#52ae92"/>
<use href="#u" x="117.90" y="292.12" fill="#52ae92"/>
<use href="#u" x="135.25" y="292.12" fill="#52ae92"/>
<use href="#u" x="152.60" y="292.12" fill="#52ae92"/>
<use href="#u" x="169.95" y="292.12" fill="#52ae92"/>
<use href="#u" x="187.30" y="292.12" fill="#52ae92"/>
<use href="#u" x="204.65" y="292.12" fill="#52ae92"/>
<use href="#u" x="13.80" y="309.44" fill="#52ae92"/>
<use href="#u" x="31.15" y="309.44" fill="#52ae92"/>
<use href="#u" x="48.50" y="309.44" fill="#52ae92"/>
<use href="#u" x="65.85" y="309.44" fill="#52ae92"/>
<use href="#u" x="83.20" y="309.44" fill="#52ae92"/>
<use href="#u" x="100.55" y="309.44" fill="#52ae92"/>
<use href="#u" x="117.90" y="309.44" fill="#52ae92"/>
<use href="#u" x="135.25" y="309.44" fill="#52ae92"/>
<use href="#u" x="152.60" y="309.44" fill="#52ae92"/>
<use href="#u" x="169.95" y="309.44" fill="#52ae92"/>
<use href="#u" x="187.30" y="309.44" fill="#52ae92"/>
<use href="#u" x="204.65" y="309.44" fill="#52ae92"/>
<use href="#u" x="13.80" y="326.76" fill="#52ae92"/>
<use href="#u" x="31.15" y="326.76" fill="#52ae92"/>
<use href="#u" x="48.50" y="326.76" fill="#52ae92"/>
<use href="#u" x="65.85" y="326.76" fill="#52ae92"/>
<use href="#u" x="83.20" y="326.76" fill="#b1a17c"/>
<use href="#u" x="100.55" y="326.76" fill="#b1a17c"/>
<use href="#u" x="117.90" y="326.76" fill="#b1a17c"/>
<use href="#u" x="135.25" y="326.76" fill="#b1a17c"/>
<use href="#u" x="152.60" y="326.76" fill="#b1a17c"/>
<use href="#u" x="169.95" y="326.76" fill="#b1a17c"/>
<use href="#u" x="187.30" y="326.76" fill="#b1a17c"/>
<use href="#u" x="204.65" y="326.76" fill="#b1a17c"/>
<use href="#u" x="13.80" y="344.08" fill="#b1a17c"/>
<use href="#u" x="31.15" y="344.08" fill="#b1a17c"/>
<use href="#u" x="48.50" y="344.08" fill="#b1a17c"/>
<use href="#u" x="65.85" y="344.08" fill="#b1a17c"/>
<use href="#u" x="83.20" y="344.08" fill="#b1a17c"/>
<use href="#u" x="100.55" y="344.08" fill="#b1a17c"/>
<use href="#u" x="117.90" y="344.08" fill="#b1a17c"/>
<use href="#u" x="135.25" y="344.08" fill="#b1a17c"/>
<use href="#u" x="152.60" y="344.08" fill="#b1a17c"/>
<use href="#u" x="169.95" y="344.08" fill="#b1a17c"/>
<use href="#u" x="187.30" y="344.08" fill="#b1a17c"/>
<use href="#u" x="204.65" y="344.08" fill="#b1a17c"/>
<use href="#u" x="13.80" y="361.40" fill="#ee7d5f"/>
<use href="#u" x="31.15" y="361.40" fill="#ee7d5f"/>
<use href="#u" x="48.50" y="361.40" fill="#ee7d5f"/>
<use href="#u" x="65.85" y="361.40" fill="#ee7d5f"/>
<use href="#u" x="83.20" y="361.40" fill="#ee7d5f"/>
<use href="#u" x="100.55" y="361.40" fill="#ee7d5f"/>
<use href="#u" x="117.90" y="361.40" fill="#ee7d5f"/>
<use href="#u" x="135.25" y="361.40" fill="#ee7d5f"/>
<use href="#u" x="152.60" y="361.40" fill="#ee7d5f"/>
<use href="#u" x="169.95" y="361.40" fill="#ee7d5f"/>
<use href="#u" x="187.30" y="361.40" fill="#ee7d5f"/>
<use href="#u" x="204.65" y="361.40" fill="#ee7d5f"/>
<use href="#u" x="13.80" y="378.72" fill="#ee7d5f"/>
<use href="#u" x="31.15" y="378.72" fill="#ee7d5f"/>
<use href="#u" x="48.50" y="378.72" fill="#ee7d5f"/>
<use href="#u" x="65.85" y="378.72" fill="#ab8c9b"/>
<use href="#u" x="83.20" y="378.72" fill="#ab8c9b"/>
<use href="#u" x="100.55" y="378.72" fill="#ab8c9b"/>
<use href="#u" x="117.90" y="378.72" fill="#ab8c9b"/>
<use href="#u" x="135.25" y="378.72" fill="#ab8c9b"/>
<use href="#u" x="152.60" y="378.72" fill="#ab8c9b"/>
<use href="#u" x="169.95" y="378.72" fill="#7f84be"/>
<use href="#u" x="187.30" y="378.72" fill="#7f84be"/>
<use href="#u" x="204.65" y="378.72" fill="#7f84be"/>
<use href="#u" x="13.80" y="396.04" fill="#7f84be"/>
<use href="#u" x="31.15" y="396.04" fill="#b87bb4"/>
<use href="#u" x="48.50" y="396.04" fill="#b87bb4"/>
<use href="#u" x="65.85" y="396.04" fill="#b87bb4"/>
<use href="#u" x="83.20" y="396.04" fill="#b87bb4"/>
<use href="#u" x="100.55" y="396.04" fill="#d78a9a"/>
<use href="#u" x="117.90" y="396.04" fill="#d78a9a"/>
<use href="#u" x="135.25" y="396.04" fill="#d78a9a"/>
<use href="#u" x="152.60" y="396.04" fill="#8fb45c"/>
<use href="#u" x="169.95" y="396.04" fill="#8fb45c"/>
<use href="#u" x="187.30" y="396.04" fill="#8fb45c"/>
<use href="#u" x="204.65" y="396.04" fill="#a0c637"/>
<use href="#u" x="13.80" y="413.36" fill="#a0c637"/>
<use href="#u" x="31.15" y="413.36" fill="#eed531"/>
<use href="#u" x="48.50" y="413.36" fill="#efc443"/>
<use href="#u" x="65.85" y="413.36" fill="#e2bc7d"/>
<use href="#u" x="83.20" y="413.36" fill="#c2b597"/>
<use href="#u" x="100.55" y="413.36" fill="#a6aaaa"/>
</g>
<text class="lg" x="230.4" y="287.70" fill="#52ae92" textLength="171.7" lengthAdjust="spacingAndGlyphs">NAD AL HAMMAR HEALTH CENTER (39.8%)</text>
<text class="lg" x="230.4" y="308.75" fill="#b1a17c" textLength="133.4" lengthAdjust="spacingAndGlyphs">BARSHA HEALTH CENTER (19.6%)</text>
<text class="lg" x="230.4" y="329.80" fill="#ee7d5f" textLength="142.9" lengthAdjust="spacingAndGlyphs">AL MIZHER HEALTH CENTER (14.7%)</text>
<text class="lg" x="230.4" y="350.85" fill="#ab8c9b" textLength="151.7" lengthAdjust="spacingAndGlyphs">UMM SUQEIM HEALTH CENTER (5.9%)</text>
<text class="lg" x="230.4" y="371.90" fill="#7f84be" textLength="142.9" lengthAdjust="spacingAndGlyphs">AL KHAWANEEJ PRIMARY HC (4.2%)</text>
<text class="lg" x="230.4" y="392.95" fill="#b87bb4" textLength="97.2" lengthAdjust="spacingAndGlyphs">HATTA HOSPITAL (3.8%)</text>
<text class="lg" x="230.4" y="414.00" fill="#d78a9a" textLength="113.1" lengthAdjust="spacingAndGlyphs">NAD AL SHIBA CLINIC (3.1%)</text>
<text class="lg" x="412.0" y="287.70" fill="#8fb45c" textLength="126.3" lengthAdjust="spacingAndGlyphs">ZABEEL HEALTH CENTER (2.8%)</text>
<text class="lg" x="412.0" y="308.75" fill="#a0c637" textLength="121.9" lengthAdjust="spacingAndGlyphs">AL TAWAR PRIMARY HC (2.2%)</text>
<text class="lg" x="412.0" y="329.80" fill="#eed531" textLength="126.0" lengthAdjust="spacingAndGlyphs">ALMAMZAR PRIMARY HC (1.0%)</text>
<text class="lg" x="412.0" y="350.85" fill="#efc443" textLength="104.3" lengthAdjust="spacingAndGlyphs">AL LUSAILY CLINIC (0.9%)</text>
<text class="lg" x="412.0" y="371.90" fill="#e2bc7d" textLength="136.1" lengthAdjust="spacingAndGlyphs">ALBADAA HEALTH CENTER (0.9%)</text>
<text class="lg" x="412.0" y="392.95" fill="#c2b597" textLength="142.9" lengthAdjust="spacingAndGlyphs">AL MANKHOOL PRIMARY HC (0.6%)</text>
<text class="lg" x="412.0" y="414.00" fill="#a6aaaa" textLength="102.3" lengthAdjust="spacingAndGlyphs">AL QUSAIS CLINIC (0.6%)</text>
</svg></body></html>
